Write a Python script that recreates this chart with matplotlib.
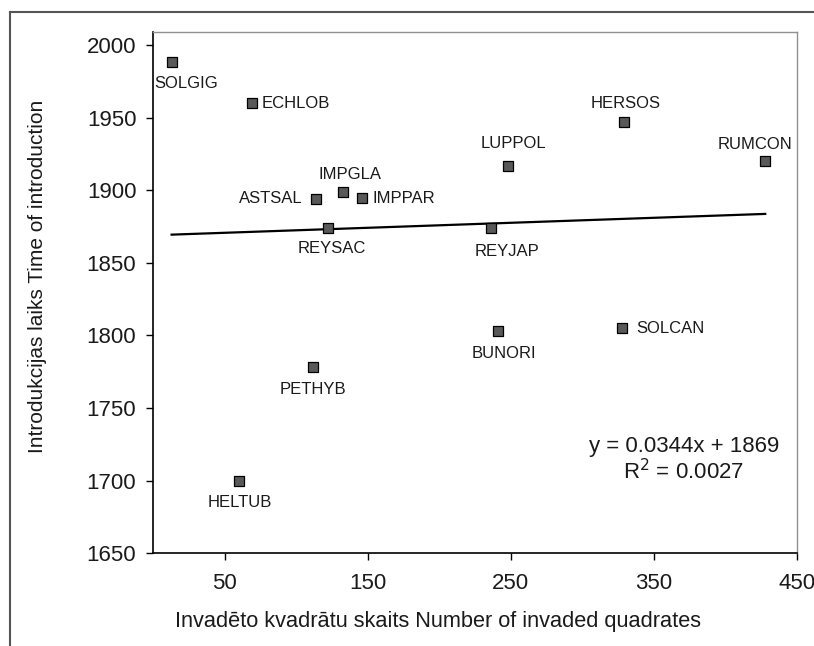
import matplotlib
matplotlib.use("Agg")
import matplotlib.pyplot as plt
from matplotlib.lines import Line2D
import numpy as np

plt.rcParams['font.family'] = ['Liberation Sans', 'DejaVu Sans']

species = ["SOLGIG", "ECHLOB", "HERSOS", "LUPPOL", "RUMCON", "ASTSAL", "IMPGLA",
           "IMPPAR", "REYSAC", "REYJAP", "BUNORI", "SOLCAN", "PETHYB", "HELTUB"]
quadrates = [13, 69, 329, 248, 428, 114, 133, 146, 122, 236, 241, 328, 112, 60]
intro_year = [1988, 1960, 1947, 1917, 1920, 1894, 1899, 1895, 1874, 1874, 1803, 1805, 1778, 1700]

slope = 0.0344
intercept = 1869
r2 = 0.0027

x_ticks = [50, 150, 250, 350, 450]
y_ticks = [1650, 1700, 1750, 1800, 1850, 1900, 1950, 2000]

# label offsets in pixels (dx, dy with y downward), alignment
label_offsets = [(15, 21, 'center'), (10, 0, 'left'), (2, -19, 'center'), (6, -22, 'center'),
                 (-10, -17, 'center'), (-13, 0, 'right'), (7, -17, 'center'),
                 (11, 1, 'left'), (4, 20, 'center'), (16, 23, 'center'), (6, 22, 'center'),
                 (14, 0, 'left'), (0, 22, 'center'), (1, 22, 'center')]

W, H = 814, 646
fig = plt.figure(figsize=(W / 100, H / 100), dpi=100)
ax = fig.add_axes([153 / W, 1 - 553.3 / H, (796.7 - 153) / W, (553.3 - 32) / H])

# outer frame lines
fig.add_artist(Line2D([10 / W, 10 / W], [0, 1 - 12 / H], transform=fig.transFigure,
                      color='#555555', lw=1.5))
fig.add_artist(Line2D([10 / W, 1], [1 - 12 / H, 1 - 12 / H], transform=fig.transFigure,
                      color='#555555', lw=1.5))

ax.scatter(quadrates, intro_year, marker='s', s=62, facecolor='#595959',
           edgecolor='black', linewidth=0.9, zorder=3)

xs = np.array([min(quadrates), max(quadrates)])
ax.plot(xs, slope * xs + intercept, color='black', lw=1.6, zorder=2)

txt_color = '#1a1a1a'
for name, xv, yv, (dx, dy, ha) in zip(species, quadrates, intro_year, label_offsets):
    ax.annotate(name, (xv, yv), xytext=(dx * 0.72, -dy * 0.72), textcoords='offset points',
                ha=ha, va='center', fontsize=12, color=txt_color)

ax.text((684 - 153) / (796.7 - 153), 1 - (446.7 - 32) / (553.3 - 32),
        f"y = {slope}x + {intercept}", transform=ax.transAxes, ha='center', va='center',
        fontsize=16, color=txt_color)
ax.text((684 - 153) / (796.7 - 153), 1 - (471.7 - 32) / (553.3 - 32),
        f"R$^2$ = {r2}", transform=ax.transAxes, ha='center', va='center', fontsize=16,
        color=txt_color)

ax.set_xlim(0, 450)
ax.set_ylim(1650, 2009)
ax.set_xticks(x_ticks)
ax.set_yticks(y_ticks)
ax.tick_params(axis='both', direction='out', length=5, width=1, labelsize=16, color='black',
               labelcolor=txt_color)
ax.tick_params(axis='x', pad=9)
ax.tick_params(axis='y', pad=7)

for s in ['top', 'right']:
    ax.spines[s].set_color('#909090')
    ax.spines[s].set_linewidth(1.0)
for s in ['left', 'bottom']:
    ax.spines[s].set_color('black')
    ax.spines[s].set_linewidth(1.2)

ax.set_xlabel("Invadēto kvadrātu skaits Number of invaded quadrates", fontsize=15.7,
              color=txt_color)
ax.xaxis.set_label_coords((438 - 153) / (796.7 - 153), 1 - (621.7 - 32) / (553.3 - 32))
ax.xaxis.label.set_va('center')
ax.set_ylabel("Introdukcijas laiks Time of introduction", fontsize=15, color=txt_color)
ax.yaxis.set_label_coords((38 - 153) / (796.7 - 153), 1 - (276 - 32) / (553.3 - 32))
ax.yaxis.label.set_va('center')

fig.savefig("out.png", dpi=100)
